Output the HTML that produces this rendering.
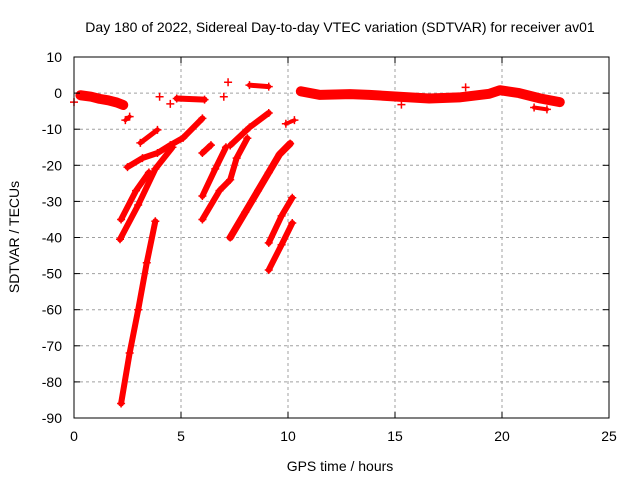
<!DOCTYPE html>
<html><head><meta charset="utf-8"><style>
body{margin:0;background:#fff}
svg text{font-family:"Liberation Sans",sans-serif;font-size:14px;fill:#000}
</style></head><body>
<svg id="c" width="640" height="480">
<rect width="640" height="480" fill="#fff"/>
<text x="340" y="32" text-anchor="middle">Day 180 of 2022, Sidereal Day-to-day VTEC variation (SDTVAR) for receiver av01</text>
<text x="340" y="471" text-anchor="middle">GPS time / hours</text>
<text transform="translate(19,237) rotate(-90)" text-anchor="middle">SDTVAR / TECUs</text>
<g id="grid"></g><g id="marks"></g>
<rect x="74" y="57" width="535" height="361" fill="none" stroke="#000" stroke-width="1"/>
<g id="ticks"></g>
</svg>
<script>
const xTicks=[0,5,10,15,20,25];
const yTicks=[10,0,-10,-20,-30,-40,-50,-60,-70,-80,-90];
// tracks: [hour, TECU] pairs; width = drawn band thickness
const trackA=[[0.3,-0.6],[0.8,-1.0],[1.2,-1.6],[1.6,-2.0],[2.0,-2.6],[2.3,-3.3]];
const trackB=[[2.2,-35],[2.9,-27],[3.5,-22]];
const trackC=[[2.15,-40.5],[3.0,-31],[3.8,-21],[4.6,-15]];
const trackD=[[2.5,-20.5],[3.2,-18],[3.9,-16.6],[4.5,-14.4],[5.1,-12.4],[6.0,-7]];
const trackE=[[3.1,-13.8],[3.9,-10.2]];
const trackF=[[2.2,-86],[2.6,-72],[3.0,-60],[3.4,-47],[3.8,-35.5]];
const trackG=[[6.0,-16.6],[6.4,-14.4]];
const trackH=[[6.0,-28.5],[6.6,-21],[7.1,-15]];
const trackI=[[6.0,-35],[6.8,-27],[7.3,-24],[7.6,-18],[8.1,-12.5]];
const trackJ=[[7.3,-14.5],[8.2,-9.5],[9.1,-5.5]];
const trackK=[[7.3,-40],[8.0,-33],[8.6,-27],[9.1,-22],[9.6,-17],[10.1,-14]];
const trackL=[[9.1,-41.5],[9.7,-34],[10.2,-29]];
const trackM=[[9.1,-49],[9.7,-42],[10.2,-36]];
const trackN=[[10.6,0.5],[11.5,-0.5],[12.9,-0.3],[13.8,-0.5],[15.2,-1],[16.6,-1.5],[18.0,-1.2],[19.4,-0.2],[19.9,0.8],[20.8,0],[21.8,-1.5],[22.7,-2.5]];
const trackO=[[4.8,-1.5],[6.1,-1.8]];
const trackP=[[8.2,2.2],[9.1,1.8]];
const trackQ=[[21.5,-4],[22.1,-4.5]];
const trackR=[[9.9,-8.5],[10.3,-7.5]];
const trackS=[[2.4,-7.5],[2.6,-6.5]];
const singles=[[0,-2.5],[4.0,-1],[4.5,-3],[7.2,3],[7.0,-1],[18.3,1.6],[15.3,-3.2]];
const tracks=[[trackA,10],[trackB,6],[trackC,6],[trackD,6],[trackE,5],[trackF,6],[trackG,6],[trackH,6],[trackI,6],[trackJ,6],[trackK,7],[trackL,6],[trackM,6],[trackN,10],[trackO,6],[trackP,5],[trackQ,4],[trackR,4],[trackS,4]];
const X=h=>74+h*535/25, Y=v=>57+(10-v)*361/100;
const NS='http://www.w3.org/2000/svg';
function mk(t,a,p){const e=document.createElementNS(NS,t);for(const k in a)e.setAttribute(k,a[k]);p.appendChild(e);return e;}
const grid=document.getElementById('grid'),ticks=document.getElementById('ticks'),marks=document.getElementById('marks');
xTicks.forEach(t=>{const x=X(t);
 if(t>0&&t<25){const g=mk('line',{x1:x,x2:x,y1:57,y2:418,stroke:'#a0a0a0','stroke-dasharray':'3,3'},grid);
 
 }
 mk('line',{x1:x,x2:x,y1:418,y2:412,stroke:'#000'},ticks);mk('line',{x1:x,x2:x,y1:57,y2:63,stroke:'#000'},ticks);
 const l=mk('text',{x:x,y:441,'text-anchor':'middle'},ticks);l.textContent=t;
 
 });
yTicks.forEach(t=>{const y=Y(t);
 if(t<10&&t>-90){const g=mk('line',{x1:74,x2:609,y1:y,y2:y,stroke:'#a0a0a0','stroke-dasharray':'3,3'},grid);
 
 }
 mk('line',{x1:74,x2:80,y1:y,y2:y,stroke:'#000'},ticks);mk('line',{x1:609,x2:603,y1:y,y2:y,stroke:'#000'},ticks);
 const l=mk('text',{x:62,y:y+5,'text-anchor':'end'},ticks);l.textContent=t;
 
 });
function plus(h,v){const x=X(h),y=Y(v);
 const p=mk('path',{d:`M${x-4},${y}H${x+4}M${x},${y-4}V${y+4}`,stroke:'#f00','stroke-width':1.5},marks);
 
 }
tracks.forEach(([pts,w])=>{
 const pl=mk('polyline',{points:pts.map(p=>X(p[0])+','+Y(p[1])).join(' '),fill:'none',stroke:'#f00','stroke-width':w,'stroke-linejoin':'round','stroke-linecap':'round'},marks);
 
 
 pts.forEach(p=>plus(p[0],p[1]));});
singles.forEach(p=>plus(p[0],p[1]));
</script>
</body></html>
